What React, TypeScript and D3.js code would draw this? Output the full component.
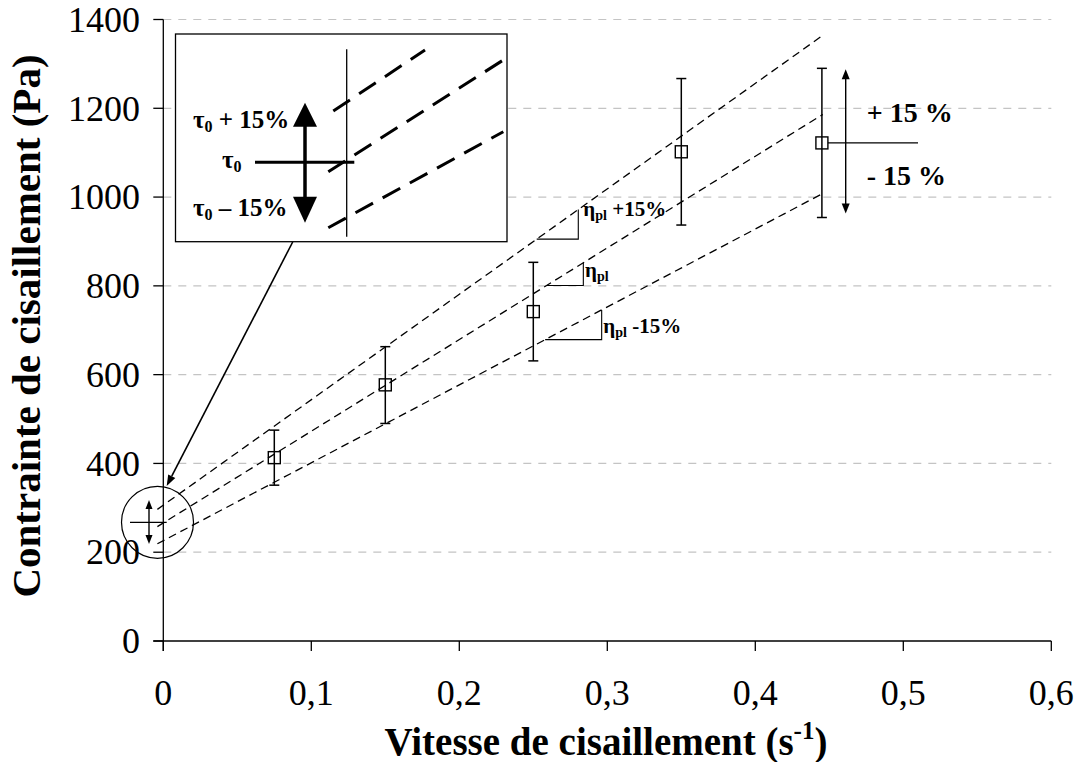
import React from "react";
import * as d3 from "d3";

// ---- data ----
const shearRate = [0.075, 0.15, 0.25, 0.35, 0.445];
const shearStress = [413, 577, 742, 1102, 1122];
const stressLow = [351, 490, 631, 937, 954];
const stressHigh = [475, 663, 853, 1267, 1290];

// Bingham model lines: tau = tau0 + eta * gamma (eta +15%, eta, eta -15%)
const lineNames = ["+15%", "", "-15%"];
const yieldStress = [306, 266, 226];
const plasticViscosity = [2375, 2065, 1755];
const lineGammaStart = -0.004;
const lineGammaEnd = 0.4456;

// slope triangles (gamma range along each line)
const triStart = [0.2523, 0.259, 0.258];
const triEnd = [0.2804, 0.2838, 0.2962];

const xTicks = [0, 0.1, 0.2, 0.3, 0.4, 0.5, 0.6];
const xTickLabels = ["0", "0,1", "0,2", "0,3", "0,4", "0,5", "0,6"];
const yTicks = [0, 200, 400, 600, 800, 1000, 1200, 1400];
const yGrid = [200, 400, 600, 800, 1000, 1200, 1400];

const W = 1081;
const H = 762;
const FONT = "'Liberation Serif', serif";

function tri(x: number, y: number, dir: "up" | "down", w: number, h: number) {
  const s = dir === "up" ? 1 : -1;
  return `M${x},${y} L${x - w / 2},${y + s * h} L${x + w / 2},${y + s * h} Z`;
}

export default function App() {
  const x = d3.scaleLinear().domain([0, 0.6]).range([163.3, 1051.3]);
  const y = d3.scaleLinear().domain([0, 1400]).range([641, 19.5]);

  const lines = yieldStress.map((t0, i) => {
    const eta = plasticViscosity[i];
    const gen = d3
      .line<number>()
      .x((g) => x(g))
      .y((g) => y(t0 + eta * g));
    return gen([lineGammaStart, lineGammaEnd]) as string;
  });

  const lastIdx = shearRate.length - 1;
  const px5 = x(shearRate[lastIdx]);
  const py5 = y(shearStress[lastIdx]);

  const inset = { x0: 175.5, y0: 34, x1: 507, y1: 241.7 };
  const circ = { cx: 157.5, cy: 522.3, r: 36 };

  const aStart = { x: 292.7, y: 242 };
  const aEnd = { x: 166.7, y: 486 };
  const ang = Math.atan2(aEnd.y - aStart.y, aEnd.x - aStart.x);
  const ahL = 11;
  const ahW = 4;
  const ahBase = { x: aEnd.x - ahL * Math.cos(ang), y: aEnd.y - ahL * Math.sin(ang) };
  const perp = { x: -Math.sin(ang), y: Math.cos(ang) };

  const labelTexts = [
    { x: 583.3, y: 216 },
    { x: 585, y: 277 },
    { x: 603.3, y: 333 },
  ];

  return (
    <div style={{ position: "absolute", left: 0, top: 0 }}>
      <svg width={W} height={H} style={{ display: "block", background: "#fff" }}>
        <rect x={0} y={0} width={W} height={H} fill="#fff" />
        {yGrid.map((v) => (
          <line
            key={"g" + v}
            x1={x(0)}
            x2={x(0.6)}
            y1={y(v)}
            y2={y(v)}
            stroke="#c4c4c4"
            strokeWidth={1.2}
            strokeDasharray="8,7"
          />
        ))}

        <line x1={x(0)} x2={x(0)} y1={y(1400)} y2={y(0) + 10} stroke="#000" strokeWidth={1.3} />
        <line x1={x(0) - 10} x2={x(0.6)} y1={y(0)} y2={y(0)} stroke="#000" strokeWidth={1.3} />
        {yTicks.map((v) => (
          <g key={"yt" + v}>
            <line x1={x(0) - 10} x2={x(0)} y1={y(v)} y2={y(v)} stroke="#000" strokeWidth={1.3} />
            <text x={140} y={y(v)} dy="0.34em" textAnchor="end" fontFamily={FONT} fontSize={36} fill="#000">
              {v}
            </text>
          </g>
        ))}
        {xTicks.map((v, i) => (
          <g key={"xt" + v}>
            <line x1={x(v)} x2={x(v)} y1={y(0)} y2={y(0) + 10} stroke="#000" strokeWidth={1.3} />
            <text x={x(v)} y={705} textAnchor="middle" fontFamily={FONT} fontSize={36} fill="#000">
              {xTickLabels[i]}
            </text>
          </g>
        ))}

        <text
          transform={`translate(40, 326) rotate(-90)`}
          textAnchor="middle"
          fontFamily={FONT}
          fontWeight="bold"
          fontSize={41}
          fill="#000"
        >
          Contrainte de cisaillement (Pa)
        </text>
        <text x={606} y={755} textAnchor="middle" fontFamily={FONT} fontWeight="bold" fontSize={39} fill="#000">
          Vitesse de cisaillement (s
          <tspan fontSize={25} dy={-16}>
            -1
          </tspan>
          <tspan dy={16}>)</tspan>
        </text>

        {lines.map((d, i) => (
          <path key={"l" + i} d={d} fill="none" stroke="#000" strokeWidth={1.3} strokeDasharray="8,5" />
        ))}

        {triStart.map((g0, i) => {
          const g1 = triEnd[i];
          const t0 = yieldStress[i];
          const eta = plasticViscosity[i];
          const yA = y(t0 + eta * g0);
          const yB = y(t0 + eta * g1);
          return (
            <polyline
              key={"tr" + i}
              points={`${x(g0)},${yA} ${x(g1)},${yA} ${x(g1)},${yB}`}
              fill="none"
              stroke="#000"
              strokeWidth={1.1}
            />
          );
        })}
        {labelTexts.map((p, i) => (
          <text key={"lt" + i} x={p.x} y={p.y} fontFamily={FONT} fontWeight="bold" fontSize={21} fill="#000">
            η<tspan fontSize={14} dy={4}>pl</tspan>
            <tspan dy={-4}>{lineNames[i] ? " " + lineNames[i] : ""}</tspan>
          </text>
        ))}

        {shearRate.map((g, i) => {
          const cx = x(g);
          const cy = y(shearStress[i]);
          const yl = y(stressLow[i]);
          const yh = y(stressHigh[i]);
          return (
            <g key={"p" + i}>
              <line x1={cx} x2={cx} y1={yh} y2={yl} stroke="#000" strokeWidth={1.5} />
              <line x1={cx - 5} x2={cx + 5} y1={yh} y2={yh} stroke="#000" strokeWidth={1.5} />
              <line x1={cx - 5} x2={cx + 5} y1={yl} y2={yl} stroke="#000" strokeWidth={1.5} />
              <rect x={cx - 6} y={cy - 6} width={12} height={12} fill="none" stroke="#000" strokeWidth={1.4} />
            </g>
          );
        })}

        <line x1={px5 + 6} x2={918} y1={py5} y2={py5} stroke="#000" strokeWidth={1.2} />
        <line x1={845.7} x2={845.7} y1={y(stressHigh[lastIdx]) + 8} y2={y(stressLow[lastIdx]) - 8} stroke="#000" strokeWidth={1.4} />
        <path d={tri(845.7, y(stressHigh[lastIdx]) + 1, "up", 8, 10)} fill="#000" />
        <path d={tri(845.7, y(stressLow[lastIdx]) - 4, "down", 8, 10)} fill="#000" />
        <text x={866.7} y={122} fontFamily={FONT} fontWeight="bold" fontSize={28} fill="#000">
          + 15 %
        </text>
        <text x={866.7} y={185} fontFamily={FONT} fontWeight="bold" fontSize={28} fill="#000">
          - 15 %
        </text>

        <circle cx={circ.cx} cy={circ.cy} r={circ.r} fill="none" stroke="#000" strokeWidth={1.2} />
        <line x1={130} x2={166.7} y1={circ.cy} y2={circ.cy} stroke="#000" strokeWidth={1.2} />
        <line x1={149} x2={149} y1={506} y2={538} stroke="#000" strokeWidth={1.4} />
        <path d={tri(149, 500, "up", 7, 9)} fill="#000" />
        <path d={tri(149, 544, "down", 7, 9)} fill="#000" />

        <line x1={aStart.x} y1={aStart.y} x2={ahBase.x} y2={ahBase.y} stroke="#000" strokeWidth={1.6} />
        <path
          d={`M${aEnd.x},${aEnd.y} L${ahBase.x + perp.x * ahW},${ahBase.y + perp.y * ahW} L${ahBase.x - perp.x * ahW},${ahBase.y - perp.y * ahW} Z`}
          fill="#000"
        />

        <rect
          x={inset.x0}
          y={inset.y0}
          width={inset.x1 - inset.x0}
          height={inset.y1 - inset.y0}
          fill="#fff"
          stroke="#000"
          strokeWidth={1.3}
        />
        <line x1={346.7} x2={346.7} y1={49.3} y2={236.7} stroke="#000" strokeWidth={1.3} />
        <line x1={333.3} y1={111} x2={425} y2={50} stroke="#000" strokeWidth={3} strokeDasharray="20,11" />
        <line x1={328.3} y1={171.7} x2={503.3} y2={60} stroke="#000" strokeWidth={3} strokeDasharray="20,11" />
        <line x1={328.3} y1={227.7} x2={503.3} y2={131.7} stroke="#000" strokeWidth={3} strokeDasharray="20,11" />
        <line x1={255} x2={354.3} y1={162.3} y2={162.3} stroke="#000" strokeWidth={3} />
        <line x1={305} x2={305} y1={124} y2={200} stroke="#000" strokeWidth={3.5} />
        <path d={tri(305, 102.7, "up", 24, 24)} fill="#000" />
        <path d={tri(305, 222.7, "down", 24, 26)} fill="#000" />
        <text x={193} y={128} fontFamily={FONT} fontWeight="bold" fontSize={25} fill="#000">
          τ<tspan fontSize={16} dy={4}>0</tspan>
          <tspan dy={-4}> + 15%</tspan>
        </text>
        <text x={222} y={168} fontFamily={FONT} fontWeight="bold" fontSize={25} fill="#000">
          τ<tspan fontSize={16} dy={4}>0</tspan>
        </text>
        <text x={193} y={216} fontFamily={FONT} fontWeight="bold" fontSize={25} fill="#000">
          τ<tspan fontSize={16} dy={4}>0</tspan>
          <tspan dy={-4}> – 15%</tspan>
        </text>
      </svg>
    </div>
  );
}
